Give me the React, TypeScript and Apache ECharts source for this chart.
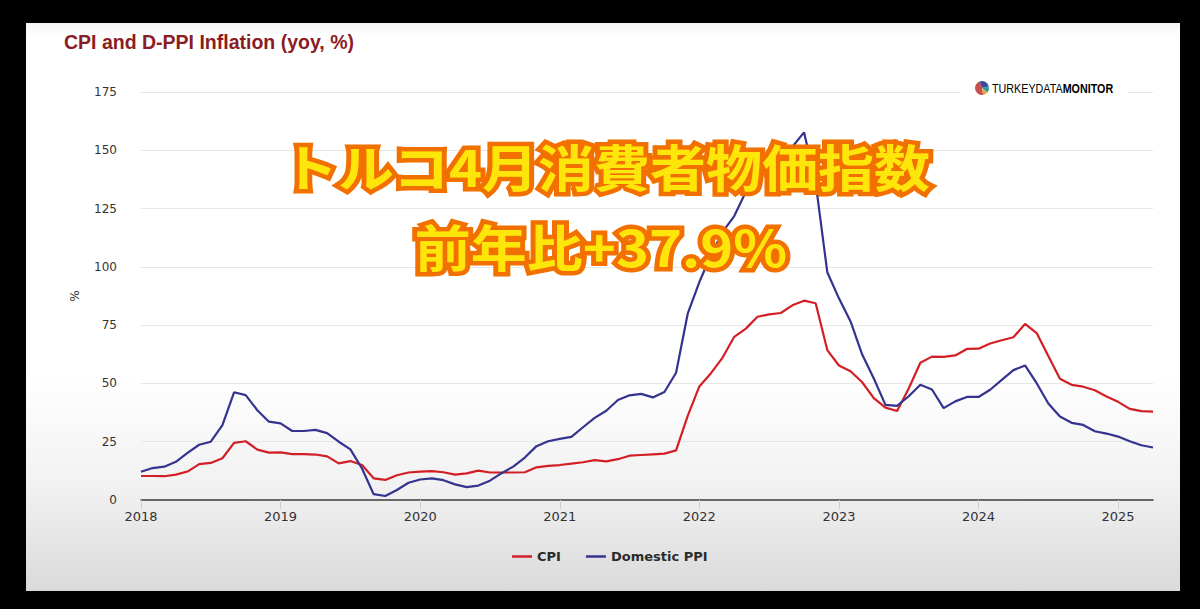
import React, { useEffect, useRef } from "react";
import * as echarts from "echarts";

const YEARS = [2018, 2019, 2020, 2021, 2022, 2023, 2024, 2025];
const MONTHS = ["01", "02", "03", "04", "05", "06", "07", "08", "09", "10", "11", "12"];
const MONTHS_IN_LAST_YEAR = 4;
const CATEGORIES = YEARS.flatMap((y, yi) =>
  MONTHS.slice(0, yi === YEARS.length - 1 ? MONTHS_IN_LAST_YEAR : 12).map((m) => `${y}-${m}`)
);

// CPI yoy %, Jan 2018 .. Apr 2025
const CPI = [
  10.3, 10.3, 10.2, 10.9, 12.2, 15.4, 15.9, 17.9, 24.5, 25.2, 21.6, 20.3,
  20.4, 19.7, 19.7, 19.5, 18.7, 15.7, 16.7, 15.0, 9.3, 8.6, 10.6, 11.8,
  12.2, 12.4, 11.9, 10.9, 11.4, 12.6, 11.8, 11.8, 11.8, 11.9, 14.0, 14.6,
  15.0, 15.6, 16.2, 17.1, 16.6, 17.5, 19.0, 19.3, 19.6, 19.9, 21.3, 36.1,
  48.7, 54.4, 61.1, 70.0, 73.5, 78.6, 79.6, 80.2, 83.5, 85.5, 84.4, 64.3,
  57.7, 55.2, 50.5, 43.7, 39.6, 38.2, 47.8, 58.9, 61.5, 61.4, 62.0, 64.8,
  64.9, 67.1, 68.5, 69.8, 75.5, 71.6, 61.8, 52.0, 49.4, 48.6, 47.1, 44.4,
  42.1, 39.1, 38.1, 37.9,
];

// Domestic PPI yoy %, Jan 2018 .. Apr 2025
const DPPI = [
  12.1, 13.7, 14.3, 16.4, 20.2, 23.7, 25.0, 32.1, 46.2, 45.0, 38.5, 33.6,
  32.9, 29.6, 29.6, 30.1, 28.7, 25.0, 21.7, 13.5, 2.5, 1.7, 4.3, 7.4,
  8.8, 9.3, 8.5, 6.7, 5.5, 6.2, 8.3, 11.5, 14.3, 18.2, 23.1, 25.2,
  26.2, 27.1, 31.2, 35.2, 38.3, 42.9, 44.9, 45.5, 44.0, 46.3, 54.6, 79.9,
  93.5, 105.0, 115.0, 121.8, 132.2, 138.3, 144.6, 143.8, 151.5, 157.7, 136.0, 97.7,
  86.5, 76.6, 62.4, 52.1, 40.8, 40.4, 44.5, 49.4, 47.4, 39.4, 42.3, 44.2,
  44.2, 47.3, 51.5, 55.7, 57.7, 50.1, 41.4, 35.8, 33.1, 32.2, 29.5, 28.5,
  27.2, 25.2, 23.5, 22.5,
];

const Y_MIN = 0;
const Y_MAX = 175;
const Y_STEP = 25;

const TITLE = "CPI and D-PPI Inflation (yoy, %)";
const SERIES_NAMES = ["CPI", "Domestic PPI"];
const OVERLAY_LINE1 = "トルコ4月消費者物価指数";
const OVERLAY_LINE2 = "前年比+37.9%";

const deg = (d: number) => (d * Math.PI) / 180;

function overlayText(text: string, x: number, y: number) {
  const common = {
    text,
    fontSize: 50,
    fontWeight: "bold",
    fontFamily: "Noto Sans CJK JP",
    align: "center",
    verticalAlign: "middle",
  };
  return [
    {
      type: "text",
      x,
      y,
      scaleX: 1.12,
      z: 100,
      silent: true,
      style: { ...common, fill: "#ff7d00", stroke: "#f27000", lineWidth: 9, lineJoin: "round" },
    },
    {
      type: "text",
      x,
      y,
      scaleX: 1.12,
      z: 101,
      silent: true,
      style: { ...common, fill: "#ffe60a" },
    },
  ];
}

export default function App() {
  const ref = useRef<HTMLDivElement>(null);

  useEffect(() => {
    if (!ref.current) return;
    const chart = echarts.init(ref.current, undefined, { renderer: "svg" });
    const isYearStart = (i: number) => i % 12 === 0;

    const option = {
      animation: false,
      backgroundColor: "transparent",
      textStyle: { fontFamily: "DejaVu Sans" },
      title: {
        text: TITLE,
        left: 64,
        top: 32,
        padding: 0,
        textStyle: {
          fontFamily: "Liberation Sans",
          fontSize: 19.5,
          fontWeight: "bold",
          color: "#8a1c24",
        },
      },
      legend: {
        data: SERIES_NAMES,
        left: 507,
        top: 545,
        icon: "rect",
        itemWidth: 20,
        itemHeight: 2.5,
        itemGap: 25,
        textStyle: {
          fontFamily: "DejaVu Sans",
          fontWeight: "bold",
          fontSize: 13,
          color: "#2b2b2b",
        },
      },
      grid: { left: 141, right: 47, top: 92, bottom: 109 },
      xAxis: {
        type: "category",
        data: CATEGORIES,
        boundaryGap: false,
        axisLine: { lineStyle: { color: "#3c3c3c", width: 1.6 } },
        axisTick: {
          show: true,
          length: 9,
          interval: (i: number) => isYearStart(i),
          lineStyle: { color: "#cfcfcf" },
        },
        axisLabel: {
          interval: (i: number) => isYearStart(i),
          formatter: (v: string) => v.slice(0, 4),
          margin: 10,
          fontSize: 13,
          color: "#333333",
          fontFamily: "DejaVu Sans",
        },
        splitLine: { show: false },
      },
      yAxis: {
        type: "value",
        min: Y_MIN,
        max: Y_MAX,
        interval: Y_STEP,
        name: "%",
        nameLocation: "middle",
        nameRotate: 90,
        nameGap: 60,
        nameTextStyle: { fontSize: 12, color: "#333333", fontFamily: "DejaVu Sans" },
        axisLine: { show: false },
        axisTick: { show: false },
        axisLabel: { margin: 24, fontSize: 12, color: "#333333", fontFamily: "DejaVu Sans" },
        splitLine: { lineStyle: { color: "#e6e6e6", width: 1 } },
      },
      series: [
        {
          name: SERIES_NAMES[0],
          type: "line",
          data: CPI,
          symbol: "none",
          showSymbol: false,
          lineStyle: { width: 2.2, color: "#d21f26" },
          itemStyle: { color: "#d21f26" },
        },
        {
          name: SERIES_NAMES[1],
          type: "line",
          data: DPPI,
          symbol: "none",
          showSymbol: false,
          lineStyle: { width: 2.2, color: "#34338f" },
          itemStyle: { color: "#34338f" },
        },
      ],
      graphic: [
        {
          type: "rect",
          z: 5,
          silent: true,
          shape: { x: 960, y: 79, width: 168, height: 18 },
          style: { fill: "#ffffff" },
        },
        {
          type: "sector",
          z: 6,
          shape: { cx: 982, cy: 88, r0: 0, r: 7, startAngle: deg(80), endAngle: deg(250) },
          style: { fill: "#c9504f" },
        },
        {
          type: "sector",
          z: 6,
          shape: { cx: 982, cy: 88, r0: 0, r: 7, startAngle: deg(250), endAngle: deg(345) },
          style: { fill: "#3d4a9c" },
        },
        {
          type: "sector",
          z: 6,
          shape: { cx: 982, cy: 88, r0: 0, r: 7, startAngle: deg(345), endAngle: deg(400) },
          style: { fill: "#2f9a96" },
        },
        {
          type: "sector",
          z: 6,
          shape: { cx: 982, cy: 88, r0: 0, r: 7, startAngle: deg(40), endAngle: deg(80) },
          style: { fill: "#e2a93c" },
        },
        {
          type: "text",
          z: 6,
          x: 992,
          y: 88,
          scaleX: 0.86,
          style: {
            text: "{a|TURKEY}{b|DATA}{c|MONITOR}",
            align: "left",
            verticalAlign: "middle",
            rich: {
              a: { fontFamily: "Liberation Sans", fontSize: 12.5, color: "#8a8a8a", fontWeight: "normal" },
              b: { fontFamily: "Liberation Sans", fontSize: 12.5, color: "#444444", fontWeight: "normal" },
              c: { fontFamily: "Liberation Sans", fontSize: 12.5, color: "#1e1e1e", fontWeight: "bold" },
            },
          },
        },
        ...overlayText(OVERLAY_LINE1, 606, 165),
        ...overlayText(OVERLAY_LINE2, 601, 245),
      ],
    };

    chart.setOption(option as any);
    return () => chart.dispose();
  }, []);

  return (
    <div
      style={{
        position: "fixed",
        left: 0,
        top: 0,
        width: 1200,
        height: 609,
        background: "#000000",
        overflow: "hidden",
      }}
    >
      <div
        style={{
          position: "absolute",
          left: 26,
          top: 23,
          width: 1154,
          height: 568,
          background:
            "linear-gradient(to bottom, #f6f6f6 0px, #ffffff 14px, #ffffff 62%, #f1f1f1 82%, #dadada 100%)",
        }}
      />
      <div ref={ref} style={{ position: "absolute", left: 0, top: 0, width: 1200, height: 609 }} />
    </div>
  );
}
